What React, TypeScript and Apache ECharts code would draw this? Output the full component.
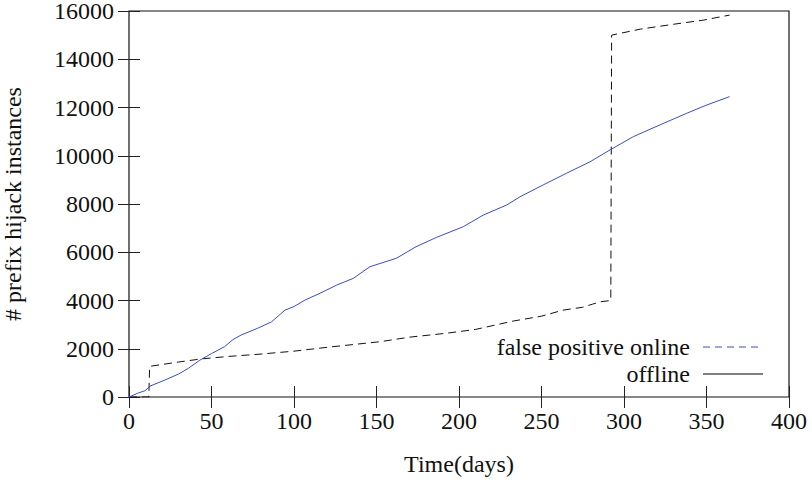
import React, { useEffect, useRef } from "react";
import * as echarts from "echarts";

const xTicks = [0, 50, 100, 150, 200, 250, 300, 350, 400];
const yTicks = [0, 2000, 4000, 6000, 8000, 10000, 12000, 14000, 16000];

const seriesNames = ["false positive online", "offline"];

const falsePositiveDays = [0, 12, 12.5, 30, 44, 60, 80, 100, 120, 152, 170, 192, 210, 233, 250, 263, 275, 281, 286, 292, 292.5, 310, 330, 348, 364];
const falsePositiveVals = [0, 0, 1270, 1450, 1580, 1680, 1780, 1900, 2060, 2290, 2480, 2640, 2800, 3150, 3350, 3600, 3720, 3850, 3950, 4000, 15000, 15250, 15450, 15620, 15830];

const offlineDays = [0, 5, 9.7, 12.7, 21.8, 30, 36, 43, 50, 58, 63, 68, 78, 86.5, 94.5, 100, 106.7, 115.8, 125.9, 136, 146, 162, 174, 186.5, 202.6, 214.7, 228.9, 237, 251, 265, 279.4, 291.5, 305.6, 321.8, 338, 350, 364];
const offlineVals = [0, 150, 260, 450, 705, 950, 1190, 1530, 1800, 2090, 2380, 2570, 2850, 3120, 3600, 3750, 4020, 4300, 4640, 4920, 5400, 5750, 6230, 6620, 7060, 7540, 7960, 8300, 8790, 9270, 9750, 10240, 10790, 11280, 11760, 12100, 12450];

const FONT = "Liberation Serif";
const FS = 24;
const BLUE = "#3a4fbb";
const TXT = "#111";

export default function App() {
  const ref = useRef<HTMLDivElement>(null);
  useEffect(() => {
    if (!ref.current) return;
    const chart = echarts.init(ref.current, undefined, { renderer: "svg" });
    const xMin = xTicks[0], xMax = xTicks[xTicks.length - 1];
    const yMin = yTicks[0], yMax = yTicks[yTicks.length - 1];
    const xInt = xTicks[1] - xTicks[0];
    const yInt = yTicks[1] - yTicks[0];
    const axisCommon = {
      axisLine: { show: false },
      axisTick: { show: true, inside: true, length: 11, lineStyle: { color: "#222", width: 1 } },
      splitLine: { show: false },
    };
    const legendRightText = 690;
    const legendLineX1 = 703;
    const legendLineX2 = 763;
    const legendY = [347, 374];
    chart.setOption({
      animation: false,
      backgroundColor: "#fff",
      textStyle: { fontFamily: FONT },
      grid: {
        left: 129,
        right: 23,
        top: 11,
        bottom: 86,
        containLabel: false,
        outerBoundsMode: "none",
        show: true,
        borderColor: "#111",
        borderWidth: 1.2,
        backgroundColor: "transparent",
      },
      graphic: [
        {
          type: "text",
          x: legendRightText,
          y: legendY[0],
          style: { text: seriesNames[0], font: `${FS}px "${FONT}"`, fill: TXT, align: "right", verticalAlign: "middle" },
        },
        {
          type: "text",
          x: legendRightText,
          y: legendY[1],
          style: { text: seriesNames[1], font: `${FS}px "${FONT}"`, fill: TXT, align: "right", verticalAlign: "middle" },
        },
        {
          type: "line",
          shape: { x1: legendLineX1, y1: legendY[0], x2: legendLineX2, y2: legendY[0] },
          style: { stroke: BLUE, lineWidth: 1, lineDash: [7, 5] },
        },
        {
          type: "line",
          shape: { x1: legendLineX1, y1: legendY[1], x2: legendLineX2, y2: legendY[1] },
          style: { stroke: "#000", lineWidth: 1 },
        },
      ],
      xAxis: [
        {
          type: "value",
          min: xMin,
          max: xMax,
          interval: xInt,
          name: "Time(days)",
          nameLocation: "middle",
          nameGap: 55,
          nameTextStyle: { fontFamily: FONT, fontSize: FS, color: TXT },
          axisLabel: { margin: 12, fontFamily: FONT, fontSize: FS, color: TXT },
          ...axisCommon,
        },
        {
          type: "value",
          position: "top",
          min: xMin,
          max: xMax,
          interval: xInt,
          axisLabel: { show: false },
          ...axisCommon,
        },
      ],
      yAxis: [
        {
          type: "value",
          min: yMin,
          max: yMax,
          interval: yInt,
          name: "# prefix hijack instances",
          nameLocation: "middle",
          nameGap: 104,
          nameTextStyle: { fontFamily: FONT, fontSize: FS, color: TXT },
          axisLabel: { margin: 15, fontFamily: FONT, fontSize: FS, lineHeight: 20, color: TXT, formatter: (v: number) => String(v) },
          ...axisCommon,
        },
        {
          type: "value",
          position: "right",
          min: yMin,
          max: yMax,
          interval: yInt,
          axisLabel: { show: false },
          ...axisCommon,
        },
      ],
      series: [
        {
          name: seriesNames[0],
          type: "line",
          showSymbol: false,
          symbol: "none",
          data: falsePositiveDays.map((d, i) => [d, falsePositiveVals[i]]),
          lineStyle: { color: "#111", width: 1, type: [8, 5] },
          itemStyle: { color: "#111" },
        },
        {
          name: seriesNames[1],
          type: "line",
          showSymbol: false,
          symbol: "none",
          data: offlineDays.map((d, i) => [d, offlineVals[i]]),
          lineStyle: { color: BLUE, width: 1 },
          itemStyle: { color: BLUE },
        },
      ],
    });
    return () => chart.dispose();
  }, []);
  return <div ref={ref} style={{ width: 812, height: 483, position: "absolute", left: 0, top: 0 }} />;
}
